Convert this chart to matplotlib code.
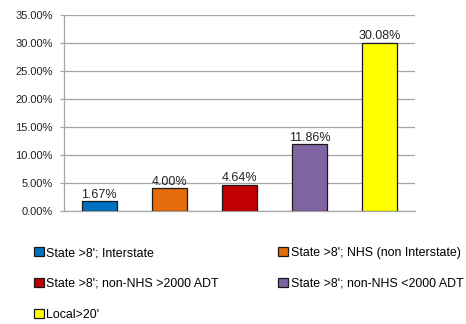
import matplotlib
matplotlib.use("Agg")
import matplotlib.pyplot as plt
from matplotlib.patches import Patch

plt.rcParams['font.family'] = ['Liberation Sans', 'DejaVu Sans']

categories = ["State >8'; Interstate",
              "State >8'; NHS (non Interstate)",
              "State >8'; non-NHS >2000 ADT",
              "State >8'; non-NHS <2000 ADT",
              "Local>20'"]
values = [1.67, 4.00, 4.64, 11.86, 30.08]
colors = ["#0070C0", "#E46C0A", "#C00000", "#8064A2", "#FFFF00"]
yticks = [0, 5, 10, 15, 20, 25, 30, 35]

fig = plt.figure(figsize=(4.66, 3.24), dpi=100)
ax = fig.add_axes([0.1373, 0.3497, 0.7532, 0.604])

x = list(range(len(values)))
bars = ax.bar(x, values, width=0.5, color=colors, edgecolor="#1a1a1a", linewidth=0.9, zorder=3)
for xi, v in zip(x, values):
    ax.annotate("%.2f%%" % v, (xi, v), xytext=(0, 0.3), textcoords="offset points",
                ha="center", va="bottom", fontsize=9, color="#222222")

ax.set_xlim(-0.5, len(values) - 0.5)
ax.set_ylim(0, 35)
ax.set_yticks(yticks)
ax.set_yticklabels(["%.2f%%" % t for t in yticks], fontsize=8, color="#222222")
ax.set_xticks([])
ax.yaxis.grid(True, color="#A6A6A6", linewidth=0.9, zorder=0)
ax.tick_params(axis="y", length=3, width=0.9, color="#A6A6A6", pad=5)
for s in ["top", "right"]:
    ax.spines[s].set_visible(False)
for s in ["left", "bottom"]:
    ax.spines[s].set_color("#A6A6A6")
    ax.spines[s].set_linewidth(0.9)

# legend laid out row by row: reorder for column-major fill
handles = [Patch(facecolor=c, edgecolor="#1a1a1a", linewidth=0.9) for c in colors]
order = [0, 2, 4, 1, 3]
fig.legend([handles[i] for i in order], [categories[i] for i in order],
           ncol=2, loc="upper left", bbox_to_anchor=(34 / 466, 1 - 247 / 324),
           frameon=False, fontsize=8.9, handlelength=0.8, handleheight=0.8,
           handletextpad=0.2, labelspacing=1.52, columnspacing=4.8, borderpad=0,
           borderaxespad=0)

fig.savefig("out.png", dpi=100)
